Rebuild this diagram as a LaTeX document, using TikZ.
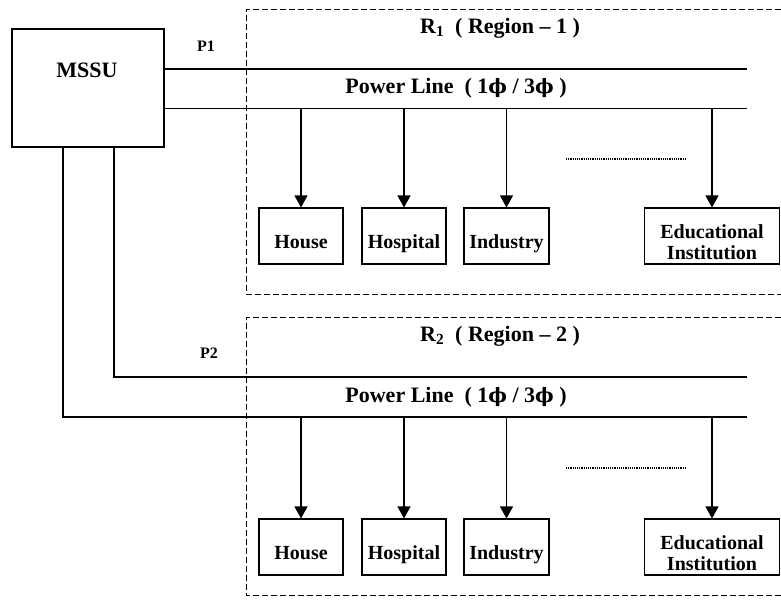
\documentclass[tikz,border=0pt]{standalone}
\usepackage{fontspec}
\setmainfont{Liberation Serif}
\newfontfamily\phifont[Scale=0.9]{DejaVu Serif}
\usetikzlibrary{arrows.meta}

\newcommand{\ph}{{\phifont\bfseries ϕ}}

\tikzset{
  unit/.style={draw, line width=1.1pt, minimum height=56pt, inner sep=2pt,
    text height=25pt, text depth=0pt,
    align=center, font=\bfseries\fontsize{20}{21}\selectfont},
  twoline/.style={text height=46pt, text depth=0pt},
  title/.style={font=\bfseries\fontsize{22}{24}\selectfont},
  tag/.style={font=\bfseries\fontsize{16}{17}\selectfont},
  bus/.style={line width=1.1pt},
  feeder/.style={line width=1.1pt, -{Triangle[length=12pt,width=13pt]}},
  region/.style={line width=1pt, dash pattern=on 6pt off 3pt},
  more/.style={line width=1.3pt, dash pattern=on 1.2pt off 1pt}
}

\begin{document}
\begin{tikzpicture}[x=1pt,y=-1pt]
    \useasboundingbox (0,0) rectangle (781,600);
    \node[draw, line width=1.1pt, minimum width=152pt, minimum height=118pt] (mssu) at (88,88) {};
    \node[title] (mssutxt) at (87,70) {MSSU};
    \node[tag] (p1) at (206,46) {P1};
    \node[tag] (p2) at (209,353) {P2};

    % region 1
    \draw[region] (781,9) -- (246.5,9) -- (246.5,294) -- (781,294);
    \node[title] (r1) at (500,28) {R\textsubscript{1}\ \ ( Region -- 1 )};
    \coordinate (bus1a) at (747,69);
    \coordinate (bus1b) at (747,108.5);
    \draw[bus] (mssu.east |- bus1a) -- (bus1a);
    \draw[bus] (mssu.east |- bus1b) -- (bus1b);
    \node[title] (line1) at (456,88) {Power Line\ \ ( 1\ph\ / 3\ph\ )};
    \node[unit, minimum width=84pt] (house1) at (301,236) {House};
    \node[unit, minimum width=84pt] (hospital1) at (404,236) {Hospital};
    \node[unit, minimum width=85pt] (industry1) at (506.5,236) {Industry};
    \node[unit, twoline, minimum width=135pt] (edu1) at (712,236) {Educational\\Institution};
    \draw[feeder] (house1 |- bus1b) -- (house1);
    \draw[feeder] (hospital1 |- bus1b) -- (hospital1);
    \draw[feeder] (industry1 |- bus1b) -- (industry1);
    \draw[feeder] (edu1 |- bus1b) -- (edu1);
    \coordinate (dots1a) at (566,159);
    \coordinate (dots1b) at (687,159);
    \draw[more] (dots1a) -- (dots1b);

    % region 2
    \draw[region] (781,317) -- (246.5,317) -- (246.5,595) -- (781,595);
    \node[title] (r2) at (500,336) {R\textsubscript{2}\ \ ( Region -- 2 )};
    \coordinate (bus2a) at (747,377);
    \coordinate (bus2b) at (747,417);
    \coordinate (drop2a) at (114,377);
    \coordinate (drop2b) at (63,417);
    \draw[bus] (mssu.south -| drop2a) -- (drop2a) -- (bus2a);
    \draw[bus] (mssu.south -| drop2b) -- (drop2b) -- (bus2b);
    \node[title] (line2) at (456,397) {Power Line\ \ ( 1\ph\ / 3\ph\ )};
    \node[unit, minimum width=84pt] (house2) at (301,547) {House};
    \node[unit, minimum width=84pt] (hospital2) at (404,547) {Hospital};
    \node[unit, minimum width=85pt] (industry2) at (506.5,547) {Industry};
    \node[unit, twoline, minimum width=135pt] (edu2) at (712,547) {Educational\\Institution};
    \draw[feeder] (house2 |- bus2b) -- (house2);
    \draw[feeder] (hospital2 |- bus2b) -- (hospital2);
    \draw[feeder] (industry2 |- bus2b) -- (industry2);
    \draw[feeder] (edu2 |- bus2b) -- (edu2);
    \coordinate (dots2a) at (566,468);
    \coordinate (dots2b) at (687,468);
    \draw[more] (dots2a) -- (dots2b);
  \end{tikzpicture}
\end{document}
